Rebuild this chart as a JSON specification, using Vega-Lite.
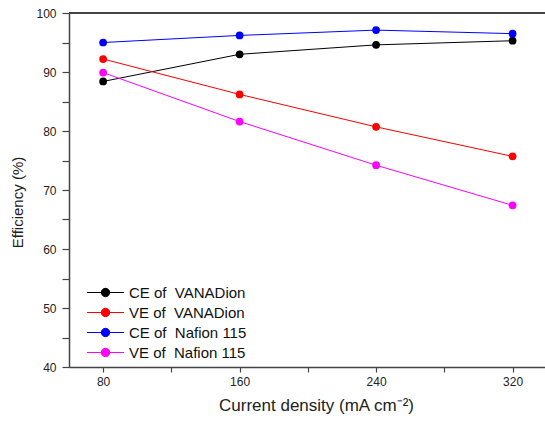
{
  "$schema": "https://vega.github.io/schema/vega-lite/v6.json",
  "width": 476,
  "height": 354,
  "autosize": {"type": "none"},
  "padding": {"left": 69, "top": 13, "right": 0, "bottom": 58},
  "config": {
    "view": {"stroke": null},
    "font": "Liberation Sans",
    "axis": {
      "domainColor": "#444444",
      "domainWidth": 1.5,
      "tickColor": "#444444",
      "tickWidth": 1.2,
      "labelColor": "#222222",
      "titleColor": "#222222",
      "labelFontSize": 12,
      "titleFontWeight": "normal",
      "grid": false
    }
  },
  "data": {
    "values": [
      {"series": "CE of \u00a0VANADion", "x": 80, "y": 88.4},
      {"series": "CE of \u00a0VANADion", "x": 160, "y": 93.0},
      {"series": "CE of \u00a0VANADion", "x": 240, "y": 94.6},
      {"series": "CE of \u00a0VANADion", "x": 320, "y": 95.3},
      {"series": "VE of \u00a0VANADion", "x": 80, "y": 92.2},
      {"series": "VE of \u00a0VANADion", "x": 160, "y": 86.2},
      {"series": "VE of \u00a0VANADion", "x": 240, "y": 80.7},
      {"series": "VE of \u00a0VANADion", "x": 320, "y": 75.7},
      {"series": "CE of \u00a0Nafion 115", "x": 80, "y": 95.0},
      {"series": "CE of \u00a0Nafion 115", "x": 160, "y": 96.2},
      {"series": "CE of \u00a0Nafion 115", "x": 240, "y": 97.1},
      {"series": "CE of \u00a0Nafion 115", "x": 320, "y": 96.5},
      {"series": "VE of \u00a0Nafion 115", "x": 80, "y": 89.9},
      {"series": "VE of \u00a0Nafion 115", "x": 160, "y": 81.6},
      {"series": "VE of \u00a0Nafion 115", "x": 240, "y": 74.2},
      {"series": "VE of \u00a0Nafion 115", "x": 320, "y": 67.4}
    ]
  },
  "encoding": {
    "x": {
      "field": "x", "type": "quantitative",
      "scale": {"domain": [60, 339], "nice": false, "zero": false},
      "axis": {
        "values": [80, 120, 160, 200, 240, 280, 320],
        "labelExpr": "datum.value % 80 === 0 ? datum.label : ''",
        "title": "Current density (mA cm⁻²)",
        "titleFontSize": 17,
        "titleX": 247,
        "tickSize": 5,
        "labelPadding": 4,
        "titlePadding": 10
      }
    },
    "y": {
      "field": "y", "type": "quantitative",
      "scale": {"domain": [40, 100], "nice": false, "zero": false},
      "axis": {
        "values": [40, 45, 50, 55, 60, 65, 70, 75, 80, 85, 90, 95, 100],
        "labelExpr": "datum.value % 10 === 0 ? datum.label : ''",
        "title": "Efficiency (%)",
        "titleFontSize": 15,
        "titleY": 189,
        "tickSize": 7,
        "labelPadding": 6,
        "titlePadding": 10
      }
    },
    "color": {
      "field": "series", "type": "nominal",
      "scale": {
        "domain": ["CE of \u00a0VANADion", "VE of \u00a0VANADion", "CE of \u00a0Nafion 115", "VE of \u00a0Nafion 115"],
        "range": ["#000000", "#ff0000", "#0000ff", "#ff00ff"]
      },
      "legend": {
        "orient": "none",
        "legendX": 26,
        "legendY": 269,
        "title": null,
        "symbolType": "M-1.85,0H1.85M-0.42,0A0.42,0.42 0 1,1 0.42,0A0.42,0.42 0 1,1 -0.42,0Z",
        "symbolSize": 400,
        "symbolStrokeWidth": 1,
        "rowPadding": 1,
        "labelFontSize": 15,
        "labelColor": "#111111",
        "labelOffset": 13,
        "labelLimit": 300,
        "encode": {
          "symbols": {
            "update": {
              "stroke": {"scale": "color", "field": "value"},
              "fill": {"scale": "color", "field": "value"},
              "strokeWidth": {"value": 1},
              "opacity": {"value": 1}
            }
          }
        }
      }
    }
  },
  "layer": [
    {
      "mark": {"type": "rule", "color": "#444444", "strokeWidth": 1.5},
      "encoding": {"y": {"datum": 100, "type": "quantitative"}, "x": null, "color": null}
    },
    {
      "mark": {"type": "line", "strokeWidth": 1}
    },
    {
      "mark": {"type": "point", "filled": true, "size": 60, "opacity": 1}
    }
  ]
}
